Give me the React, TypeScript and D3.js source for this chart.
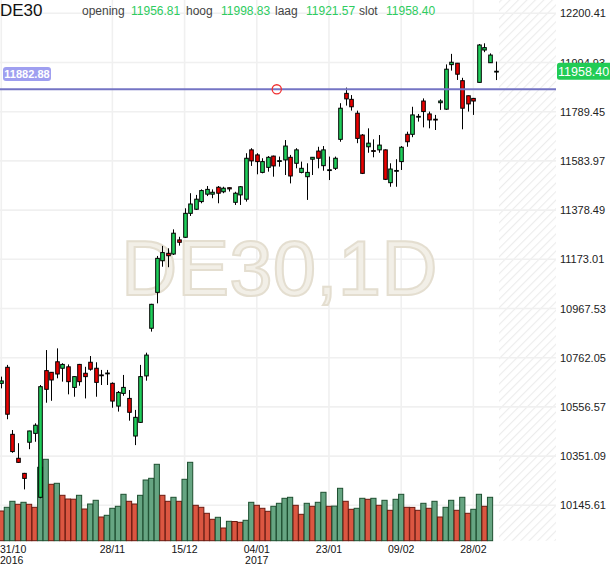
import React from "react";
import * as d3 from "d3";

// ---------- DATA ----------
const dates = [
  "2016-10-31",
  "2016-11-01","2016-11-02","2016-11-03","2016-11-04","2016-11-07","2016-11-08","2016-11-09","2016-11-10","2016-11-11",
  "2016-11-14","2016-11-15","2016-11-16","2016-11-17","2016-11-18","2016-11-21","2016-11-22","2016-11-23","2016-11-24",
  "2016-11-25","2016-11-28","2016-11-29","2016-11-30",
  "2016-12-01","2016-12-02","2016-12-05","2016-12-06","2016-12-07","2016-12-08","2016-12-09","2016-12-12","2016-12-13",
  "2016-12-14","2016-12-15","2016-12-16","2016-12-19","2016-12-20","2016-12-21","2016-12-22","2016-12-23","2016-12-27",
  "2016-12-28","2016-12-29","2016-12-30",
  "2017-01-02","2017-01-03","2017-01-04","2017-01-05","2017-01-06","2017-01-09","2017-01-10","2017-01-11","2017-01-12",
  "2017-01-13","2017-01-16","2017-01-17","2017-01-18","2017-01-19","2017-01-20","2017-01-23","2017-01-24","2017-01-25",
  "2017-01-26","2017-01-27","2017-01-30","2017-01-31",
  "2017-02-01","2017-02-02","2017-02-03","2017-02-06","2017-02-07","2017-02-08","2017-02-09","2017-02-10","2017-02-13",
  "2017-02-14","2017-02-15","2017-02-16","2017-02-17","2017-02-20","2017-02-21","2017-02-22","2017-02-23","2017-02-24",
  "2017-02-27","2017-02-28",
  "2017-03-01","2017-03-02","2017-03-03","2017-03-06",
];

const opens = [
  10655,10722,10442,10342,10279,10409,10446,10179,10708,10701,
  10745,10718,10724,10638,10734,10697,10743,10718,10690,10696,
  10655,10560,10613,10592,10435,10492,10686,10885,11035,11167,
  11198,11195,11254,11265,11365,11382,11414,11445,11445,11474,
  11455,11472,11411,11442,11424,11630,11609,11536,11557,11604,
  11583,11588,11599,11574,11536,11518,11591,11625,11564,11545,
  11553,11674,11866,11841,11783,11692,11643,11627,11630,11630,
  11493,11542,11581,11695,11695,11768,11834,11780,11758,11827,
  11800,11986,11992,11919,11856,11845,11912,12047,11994,11956.81,
];
const highs = [
  10683,10732,10460,10405,10281,10457,10488,10648,10794,10702,
  10801,10739,10734,10684,10736,10724,10769,10743,10711,10711,
  10659,10623,10690,10627,10544,10732,10783,10987,11187,11229,
  11219,11298,11267,11386,11449,11442,11465,11479,11465,11479,
  11476,11473,11455,11479,11616,11637,11616,11595,11604,11606,
  11602,11671,11609,11637,11581,11574,11600,11643,11646,11602,
  11602,11825,11890,11859,11794,11696,11720,11674,11692,11632,
  11574,11591,11646,11706,11810,11780,11845,11790,11776,11841,
  11987,12031,11993,11931,11857,11847,12072,12075,12033,11998.83,
];
const lows = [
  10634,10505,10365,10323,10212,10380,10411,10175,10574,10582,
  10676,10662,10609,10599,10645,10592,10708,10599,10648,10648,
  10553,10537,10603,10499,10397,10490,10666,10871,10989,11142,
  11140,11191,11230,11263,11354,11379,11407,11437,11428,11407,
  11449,11456,11400,11400,11414,11563,11528,11532,11539,11518,
  11560,11525,11490,11553,11532,11421,11525,11553,11543,11504,
  11546,11664,11815,11794,11658,11529,11618,11599,11618,11504,
  11476,11476,11546,11643,11683,11748,11724,11720,11713,11797,
  11797,11961,11922,11716,11790,11776,11911,12038,11993,11921.57,
];
const closes = [
  10665,10526,10370,10325,10258,10456,10480,10641,10630,10669,
  10694,10734,10662,10683,10662,10683,10714,10659,10688,10698,
  10581,10617,10638,10534,10513,10683,10773,10985,11177,11201,
  11188,11282,11244,11365,11404,11424,11460,11465,11453,11449,
  11470,11467,11449,11476,11595,11584,11581,11581,11599,11563,
  11585,11646,11521,11630,11553,11536,11599,11595,11630,11547,
  11595,11804,11843,11810,11678,11532,11658,11626,11650,11507,
  11550,11544,11641,11664,11776,11770,11790,11755,11757,11834,
  11967,11996,11946,11804,11822,11834,12068,12057,12026,11958.40,
];
// volume (the current, last session has no bar yet)
const volumes = [
  29700,33400,39400,36400,38400,36400,33400,73400,81400,56400,
  57400,45400,41700,41500,45400,31700,36700,40400,23700,25400,
  32400,34400,46400,39400,36700,45400,60700,62400,76400,45400,
  39400,43400,39400,61400,78400,35400,33400,27400,21400,23400,
  12700,19400,19200,18400,20400,38400,35400,32400,29400,34400,
  37400,42400,43400,35400,26400,37400,34400,38400,48400,34400,
  34600,52400,39400,31400,32400,42400,41400,42400,35400,40400,
  30400,41400,46400,33400,33300,30400,37400,32400,39400,23700,
  33400,40400,30400,43400,27400,31400,46400,34400,43400,
];

const priceTicks = [
  12200.41, 11994.93, 11789.45, 11583.97, 11378.49, 11173.01,
  10967.53, 10762.05, 10556.57, 10351.09, 10145.61,
];
const tickDates = ["2016-10-31","2016-11-28","2016-12-15","2017-01-04","2017-01-23","2017-02-09","2017-02-28"];
const symbol = "DE30";
const timeframe = "1D";
const lineLevel = 11882.88;
const lineMarkerIndex = 49.6;
const headerLabels = ["opening", "hoog", "laag", "slot"];

// ---------- LAYOUT ----------
const W = 610;
const H = 568;
const plotRight = 556;
const volBase = 540.7;
const FONT = "'Liberation Sans', Arial, Helvetica, sans-serif";

const x = d3.scaleLinear().domain([0, dates.length - 1]).range([1.3, 495.6]);
const y = d3
  .scaleLinear()
  .domain([priceTicks[priceTicks.length - 1], priceTicks[0]])
  .range([505.3, 13.3]);
const yv = d3.scaleLinear().domain([0, 100000]).range([volBase, volBase - 100]);

const fmt = d3.format(".2f");

const GREEN = "#1ecf5a";
const RED = "#ec0000";

export default function App() {
  const n = dates.length;
  const last = n - 1;
  const headerVals = [opens[last], highs[last], lows[last], closes[last]];
  const headerX = [82, 186, 275, 359];
  const headerValX = [131, 221, 306, 386];
  const lineY = y(lineLevel);
  const markerX = x(lineMarkerIndex);

  const ticks = tickDates.map((d, k) => {
    const i = dates.indexOf(d);
    const [yy, mm, dd] = d.split("-");
    const prevYear = k > 0 ? tickDates[k - 1].slice(0, 4) : null;
    return { i, label: `${dd}/${mm}`, year: prevYear !== yy ? yy : null };
  });

  return (
    <svg
      width={W}
      height={H}
      style={{ position: "absolute", left: 0, top: 0, background: "#fff" }}
      fontFamily={FONT}
    >
      <defs>
        <pattern id="hatch" width="6" height="6" patternUnits="userSpaceOnUse" patternTransform="rotate(45)">
          <rect width="6" height="6" fill="#fff" />
          <line x1="0" y1="0" x2="0" y2="6" stroke="#ececec" strokeWidth="2.2" />
        </pattern>
      </defs>
      <rect x={0} y={0} width={W} height={H} fill="#fff" />
      {/* future hatched area */}
      <rect x={499} y={0} width={plotRight - 499} height={volBase} fill="url(#hatch)" />

      {/* grid */}
      {priceTicks.map((p) => (
        <line key={"h" + p} x1={0} x2={plotRight} y1={y(p)} y2={y(p)} stroke="#f0f0f0" strokeWidth={1.6} />
      ))}
      {ticks.map((t) => (
        <line key={"v" + t.i} x1={x(t.i)} x2={x(t.i)} y1={0} y2={volBase} stroke="#f0f0f0" strokeWidth={1.6} />
      ))}

      {/* watermark */}
      <text
        x={121}
        y={295}
        fontSize={78}
        fill="#f2efe7"
        stroke="#e4ded0"
        strokeWidth={2}
        fontFamily={FONT}
      >
        {`${symbol},${timeframe}`}
      </text>

      {/* volume */}
      {volumes.map((v, i) => {
        const up = i > 0 && v > volumes[i - 1];
        const cx = x(i);
        return (
          <rect
            key={"vol" + i}
            x={cx - 2.6}
            y={yv(v)}
            width={5.2}
            height={volBase - yv(v)}
            fill={up ? "#66a582" : "#db5641"}
            stroke={up ? "#1d4f30" : "#6b1a10"}
            strokeWidth={1}
          />
        );
      })}

      {/* candles */}
      {dates.map((d, i) => {
        const o = opens[i];
        const c = closes[i];
        const up = c >= o;
        const cx = Math.round(x(i)) + 0.5;
        const top = y(Math.max(o, c));
        const bot = y(Math.min(o, c));
        const h = Math.max(bot - top, 0.8);
        return (
          <g key={"c" + i}>
            <line x1={cx} x2={cx} y1={y(highs[i])} y2={y(lows[i])} stroke="#000" strokeWidth={1} />
            <rect
              x={cx - 1.8}
              y={top}
              width={3.6}
              height={h}
              fill={up ? GREEN : RED}
              stroke="#000"
              strokeWidth={1}
            />
          </g>
        );
      })}

      {/* horizontal level line */}
      <line x1={0} x2={plotRight} y1={lineY} y2={lineY} stroke="#7474c4" strokeWidth={2} />
      <circle cx={markerX} cy={lineY} r={4.6} fill="none" stroke="#f03030" strokeWidth={1.3} />
      <rect x={3} y={67} width={48} height={14} rx={3} fill="#9f9ff0" />
      <text x={27} y={78} fontSize={11} fontWeight="bold" fill="#fff" textAnchor="middle">
        {fmt(lineLevel)}
      </text>

      {/* right axis labels */}
      {priceTicks.map((p) => (
        <text key={"t" + p} x={560} y={y(p) + 4} fontSize={11} fill="#222">
          {fmt(p)}
        </text>
      ))}
      {/* current price box */}
      <rect x={557} y={y(closes[last]) - 8.5} width={60} height={17} rx={2.5} fill="#22cc55" />
      <text x={558} y={y(closes[last]) + 4.5} fontSize={12.5} fill="#fff">
        {fmt(closes[last])}
      </text>

      {/* header */}
      <text x={0} y={16} fontSize={17} fill="#111">
        {symbol}
      </text>
      {headerLabels.map((lab, k) => (
        <g key={lab}>
          <text x={headerX[k]} y={15} fontSize={12} fill="#444">
            {lab}
          </text>
          <text x={headerValX[k]} y={15} fontSize={12} fill="#2ecc60">
            {fmt(headerVals[k])}
          </text>
        </g>
      ))}

      {/* x axis labels */}
      {ticks.map((t, k) => (
        <g key={"xl" + t.i}>
          <text
            x={k === 0 ? 0 : x(t.i)}
            y={552.5}
            fontSize={10.5}
            fill="#111"
            textAnchor={k === 0 ? "start" : "middle"}
          >
            {t.label}
          </text>
          {t.year && (
            <text
              x={k === 0 ? 0 : x(t.i)}
              y={563.5}
              fontSize={10.5}
              fill="#111"
              textAnchor={k === 0 ? "start" : "middle"}
            >
              {t.year}
            </text>
          )}
        </g>
      ))}
    </svg>
  );
}
